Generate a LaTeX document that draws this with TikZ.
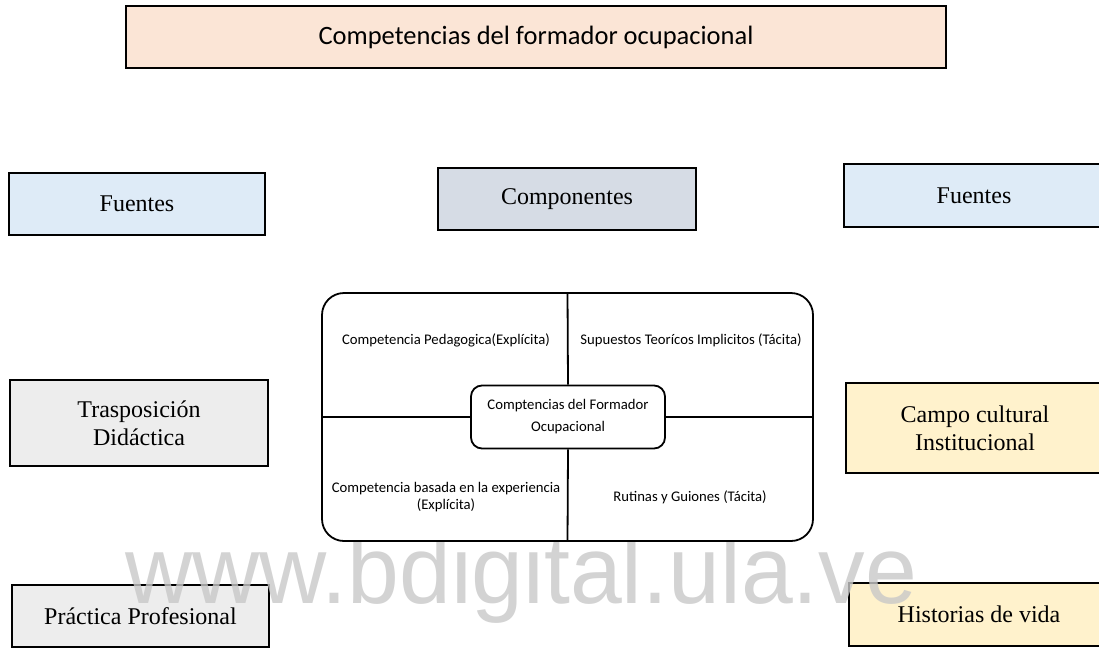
\documentclass[tikz,border=0pt]{standalone}
\usepackage{fontspec}
\setmainfont{Liberation Serif}
\newfontfamily\calib{Carlito}
\newfontfamily\wmfont{Liberation Sans}
\definecolor{peach}{HTML}{FBE5D6}
\definecolor{lblue}{HTML}{DEEBF7}
\definecolor{slate}{HTML}{D6DCE5}
\definecolor{lgray}{HTML}{EDEDED}
\definecolor{lyellow}{HTML}{FFF2CC}
\definecolor{wmgray}{HTML}{C8C8C8}
\begin{document}
\begin{tikzpicture}[x=1pt,y=-1pt,
  box/.style={draw=black, line width=1.8pt, inner sep=0pt, align=center,
    font=\fontsize{24}{28}\selectfont},
  qtext/.style={font=\calib\fontsize{14.7}{16.5}\selectfont, align=center, inner sep=0pt},
  divider/.style={draw=black, line width=1.8pt}]
\path[use as bounding box] (0,0) rectangle (1099,648);
\clip (0,0) rectangle (1099,648);
\fill[white] (0,0) rectangle (1099,648);

% header
\node[box, fill=peach, minimum width=820, minimum height=62,
  font=\calib\fontsize{26.5}{30}\selectfont] (title) at (536,37) {Competencias del formador ocupacional};

% left column
\node[box, fill=lblue, minimum width=256, minimum height=62] (fuentesL) at (137,204) {Fuentes};
\node[box, fill=lgray, minimum width=258, minimum height=86] (trasp) at (139,423) {Trasposición\\Didáctica};
\node[box, fill=lgray, minimum width=257, minimum height=62] (practica) at (140.5,616) {Práctica Profesional};

% middle
\node[box, fill=slate, minimum width=258, minimum height=62] (comp) at (567,199) {Componentes};

% right column
\node[box, fill=lblue, minimum width=260, minimum height=63] (fuentesR) at (974,195.5) {Fuentes};
\node[box, fill=lyellow, minimum width=258, minimum height=90] (campo) at (975,428) {Campo cultural\\Institucional};
\node[box, fill=lyellow, minimum width=260, minimum height=63] (historias) at (979,614.5) {Historias de vida};

% watermark (behind the central matrix)
\node[anchor=base west, inner sep=0pt, text=wmgray, text opacity=0.8,
  font=\wmfont\fontsize{96}{96}\selectfont] (wmark) at (125,603) {\scalebox{0.97}[1]{www.bdigital.ula.ve}};

% central matrix
\node[draw=black, line width=1.8pt, rounded corners=22pt, minimum width=491, minimum height=248, fill=white] (outer) at (567.5,417) {};
\node[draw=black, line width=1.8pt, rounded corners=11pt, minimum width=194, minimum height=63, fill=white,
  font=\calib\fontsize{14.7}{22}\selectfont, align=center, inner sep=0pt] (inner) at (568,417) {Comptencias del Formador\\Ocupacional};
\draw[divider] (outer.north) -- (inner.north);
\draw[divider] (inner.south) -- (outer.south);
\draw[divider] (outer.west) -- (inner.west);
\draw[divider] (inner.east) -- (outer.east);

\node[qtext] (qa) at (446,340) {Competencia Pedagogica(Explícita)};
\node[qtext] (qb) at (691,340) {Supuestos Teorícos Implicitos (Tácita)};
\node[qtext] (qc) at (446,497) {Competencia basada en la experiencia\\(Explícita)};
\node[qtext] (qd) at (690,497) {Rutinas y Guiones (Tácita)};
\end{tikzpicture}
\end{document}
